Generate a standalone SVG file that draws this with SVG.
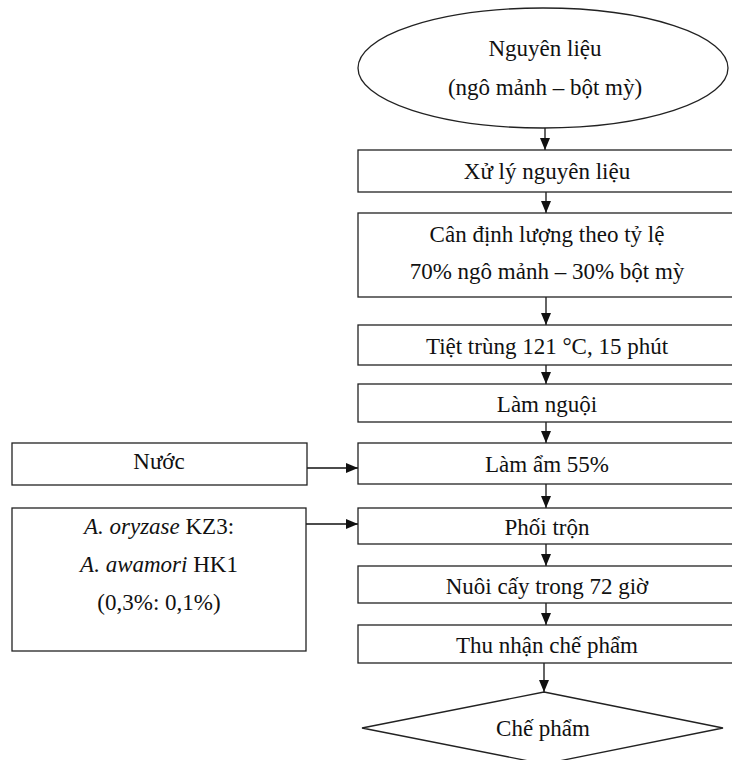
<svg xmlns="http://www.w3.org/2000/svg" width="732" height="760" viewBox="0 0 732 760">
<style>
.n{fill:#fff;stroke:#222;stroke-width:1.3}
.t{font-family:"Liberation Serif","Times New Roman",serif;font-size:23px;fill:#111;text-anchor:middle}
.c{stroke:#111;stroke-width:1.3;fill:none}
</style>
<defs>
<marker id="ah" markerUnits="userSpaceOnUse" markerWidth="12" markerHeight="10" refX="12" refY="5" orient="auto">
<path d="M0,0 L12,5 L0,10 z" fill="#111"/>
</marker>
</defs>
<rect width="732" height="760" fill="#fff"/>
<g id="connectors">
<line class="c" x1="545" y1="128" x2="545" y2="150" marker-end="url(#ah)"/>
<line class="c" x1="546" y1="192" x2="546" y2="213" marker-end="url(#ah)"/>
<line class="c" x1="546" y1="297" x2="546" y2="325" marker-end="url(#ah)"/>
<line class="c" x1="546" y1="365" x2="546" y2="384" marker-end="url(#ah)"/>
<line class="c" x1="546" y1="422" x2="546" y2="443" marker-end="url(#ah)"/>
<line class="c" x1="546" y1="484" x2="546" y2="508" marker-end="url(#ah)"/>
<line class="c" x1="546" y1="544" x2="546" y2="566" marker-end="url(#ah)"/>
<line class="c" x1="546" y1="603" x2="546" y2="625" marker-end="url(#ah)"/>
<line class="c" x1="544" y1="663" x2="544" y2="692" marker-end="url(#ah)"/>
<line class="c" x1="307" y1="468" x2="358" y2="468" marker-end="url(#ah)"/>
<line class="c" x1="306" y1="524" x2="358" y2="524" marker-end="url(#ah)"/>
</g>
<g id="n0"><ellipse class="n" cx="543" cy="68" rx="185" ry="60"/>
<text class="t" x="545" y="56">Nguyên liệu</text>
<text class="t" x="545" y="95">(ngô mảnh – bột mỳ)</text></g>
<g id="n1"><rect class="n" x="358" y="150" width="385" height="42"/>
<text class="t" x="547" y="179">Xử lý nguyên liệu</text></g>
<g id="n2"><rect class="n" x="358" y="213" width="385" height="84"/>
<text class="t" x="547" y="242">Cân định lượng theo tỷ lệ</text>
<text class="t" x="547" y="279">70% ngô mảnh – 30% bột mỳ</text></g>
<g id="n3"><rect class="n" x="358" y="325" width="385" height="40"/>
<text class="t" x="547" y="354">Tiệt trùng 121 °C, 15 phút</text></g>
<g id="n4"><rect class="n" x="358" y="384" width="385" height="38"/>
<text class="t" x="547" y="412">Làm nguội</text></g>
<g id="n5"><rect class="n" x="358" y="443" width="385" height="41"/>
<text class="t" x="547" y="472">Làm ẩm 55%</text></g>
<g id="n6"><rect class="n" x="358" y="508" width="385" height="36"/>
<text class="t" x="547" y="535">Phối trộn</text></g>
<g id="n7"><rect class="n" x="358" y="566" width="385" height="37"/>
<text class="t" x="547" y="594">Nuôi cấy trong 72 giờ</text></g>
<g id="n8"><rect class="n" x="358" y="625" width="385" height="38"/>
<text class="t" x="547" y="653">Thu nhận chế phẩm</text></g>
<g id="n9"><polygon class="n" points="544,692 723,728 544,764 362,728"/>
<text class="t" x="543" y="736">Chế phẩm</text></g>
<g id="w"><rect class="n" x="12" y="443" width="295" height="42"/>
<text class="t" x="159" y="469">Nước</text></g>
<g id="m"><rect class="n" x="12" y="508" width="294" height="143"/>
<text class="t" x="159" y="534"><tspan font-style="italic">A. oryzase</tspan> KZ3:</text>
<text class="t" x="159" y="572"><tspan font-style="italic">A. awamori</tspan> HK1</text>
<text class="t" x="159" y="610">(0,3%: 0,1%)</text></g>
</svg>
